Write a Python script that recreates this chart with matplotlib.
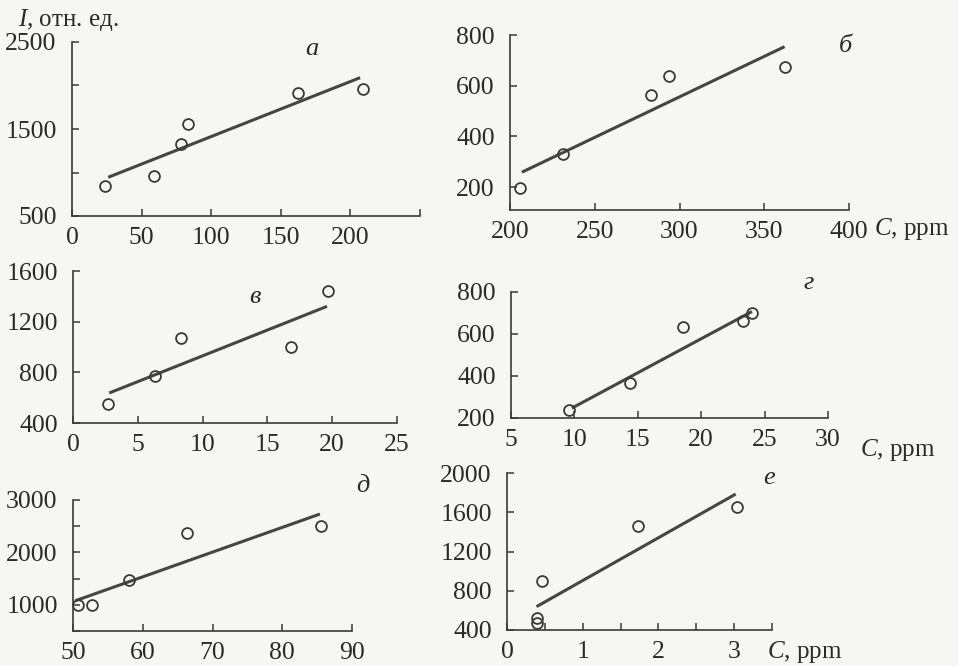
import matplotlib
matplotlib.use("Agg")
import matplotlib.pyplot as plt

plt.rcParams['font.family'] = ['Liberation Serif', 'DejaVu Serif']
plt.rcParams['mathtext.fontset'] = 'custom'
plt.rcParams['mathtext.rm'] = 'Liberation Serif'
plt.rcParams['mathtext.it'] = 'Liberation Serif:italic'

INK = '#3a3a3a'
BG = '#f6f6f5'
W, H = 958, 666

# panel а
a_x = [24, 59, 78, 83, 162, 209]
a_y = [850, 955, 1330, 1555, 1910, 1965]
a_fit_x = [26, 207]
a_fit_y = [945, 2090]

# panel б
b_x = [206, 231, 283, 294, 362]
b_y = [197, 332, 563, 638, 675]
b_fit_x = [207, 362]
b_fit_y = [259, 754]

# panel в
v_x = [2.7, 6.3, 8.3, 16.8, 19.7]
v_y = [547, 771, 1074, 1000, 1439]
v_fit_x = [2.8, 19.6]
v_fit_y = [637, 1321]

# panel г
g_x = [9.6, 14.4, 18.6, 23.3, 24.0]
g_y = [239, 365, 633, 661, 699]
g_fit_x = [9.8, 24.0]
g_fit_y = [247, 707]

# panel д
d_x = [50.7, 52.7, 58.1, 66.4, 85.6]
d_y = [994, 994, 1471, 2376, 2503]
d_fit_x = [50.3, 85.4]
d_fit_y = [1076, 2732]

# panel е
e_x = [0.39, 0.39, 0.46, 1.73, 3.04]
e_y = [519, 468, 903, 1463, 1656]
e_fit_x = [0.39, 3.02]
e_fit_y = [638, 1785]

fig = plt.figure(figsize=(W / 100, H / 100), dpi=100, facecolor=BG)


def make_axes(left, right, top, bottom):
    # pixel box -> figure fractions
    return fig.add_axes([left / W, 1 - bottom / H, (right - left) / W, (bottom - top) / H])


def panel(ax, x, y, fx, fy, xlim, ylim, xticks, xlabels, yticks, ylabels, letter, lpos):
    ax.set_facecolor('none')
    ax.plot(fx, fy, color='#454545', lw=2.2, solid_capstyle='butt')
    ax.plot(x, y, 'o', ms=7.8, mfc='none', mec=INK, mew=1.3, clip_on=False)
    ax.set_xlim(xlim)
    ax.set_ylim(ylim)
    ax.set_xticks(xticks, xlabels)
    ax.set_yticks(yticks, ylabels)
    for s in ['top', 'right']:
        ax.spines[s].set_visible(False)
    for s in ['left', 'bottom']:
        ax.spines[s].set_color(INK)
        ax.spines[s].set_linewidth(1.2)
    ax.tick_params(direction='in', length=5, width=1.1, color=INK,
                   labelsize=18.5, labelcolor='#2a2a2a')
    ax.tick_params(axis='y', pad=11)
    ax.tick_params(axis='x', pad=8)
    ax.text(lpos[0], lpos[1], letter, transform=ax.transAxes, fontsize=19,
            fontstyle='italic', color='#2a2a2a', ha='center', va='center')


ax = make_axes(72, 420, 42, 216)
panel(ax, a_x, a_y, a_fit_x, a_fit_y, (0, 250), (500, 2500),
      [0, 50, 100, 150, 200, 250], ['0', '50', '100', '150', '200', ''],
      [500, 1000, 1500, 2000, 2500], ['500', '', '1500', '', '2500'],
      'а', (0.69, 0.96))

ax = make_axes(510, 849, 35, 210)
panel(ax, b_x, b_y, b_fit_x, b_fit_y, (200, 400), (110, 800),
      [200, 250, 300, 350, 400], ['200', '250', '300', '350', '400'],
      [200, 400, 600, 800], ['200', '400', '600', '800'],
      'б', (0.99, 0.94))

ax = make_axes(73, 397, 271, 423)
panel(ax, v_x, v_y, v_fit_x, v_fit_y, (0, 25), (400, 1600),
      [0, 5, 10, 15, 20, 25], ['0', '5', '10', '15', '20', '25'],
      [400, 800, 1200, 1600], ['400', '800', '1200', '1600'],
      'в', (0.56, 0.83))

ax = make_axes(511, 828, 292, 418)
panel(ax, g_x, g_y, g_fit_x, g_fit_y, (5, 30), (200, 800),
      [5, 10, 15, 20, 25, 30], ['5', '10', '15', '20', '25', '30'],
      [200, 400, 600, 800], ['200', '400', '600', '800'],
      'г', (0.94, 1.07))

ax = make_axes(73, 352, 500, 631)
panel(ax, d_x, d_y, d_fit_x, d_fit_y, (50, 90), (500, 3000),
      [50, 60, 70, 80, 90], ['50', '60', '70', '80', '90'],
      [500, 1000, 1500, 2000, 2500, 3000], ['', '1000', '', '2000', '', '3000'],
      'д', (1.04, 1.11))

ax = make_axes(507, 772, 473, 630)
panel(ax, e_x, e_y, e_fit_x, e_fit_y, (0, 3.5), (400, 2000),
      [0, 0.5, 1, 1.5, 2, 2.5, 3, 3.5], ['0', '', '1', '', '2', '', '3', ''],
      [400, 800, 1200, 1600, 2000], ['400', '800', '1200', '1600', '2000'],
      'е', (0.99, 0.97))

# axis titles
fig.text(18 / W, 1 - 20 / H, '$I$, отн. ед.', fontsize=18, color='#2a2a2a',
         ha='left', va='center')
for px, py in [(874, 229), (860, 450), (767, 652)]:
    fig.text(px / W, 1 - py / H, '$C$, ppm', fontsize=18, color='#2a2a2a',
             ha='left', va='center')

fig.savefig('out.png', dpi=100, facecolor=BG)
